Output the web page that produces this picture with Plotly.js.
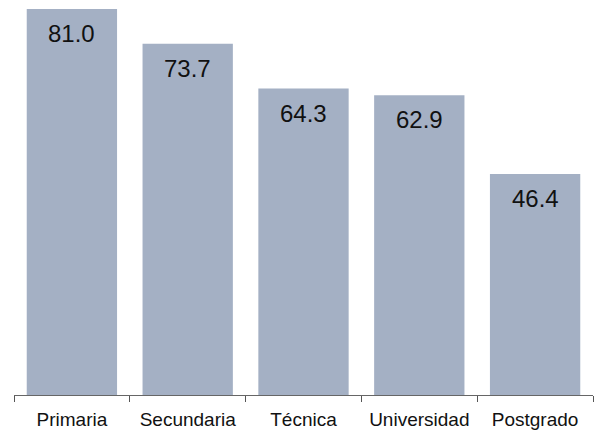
<!DOCTYPE html>
<html>
<head>
<meta charset="utf-8">
<script src="https://cdn.plot.ly/plotly-3.0.1.min.js"></script>
<style>html,body{margin:0;padding:0;background:#fff;}#chart{width:595px;height:442px;}</style>
</head>
<body>
<div id="chart"></div>
<script>
const categories = ["Primaria", "Secundaria", "Técnica", "Universidad", "Postgrado"];
const values = [81.0, 73.7, 64.3, 62.9, 46.4];
const labels = values.map(v => v.toFixed(1));

const font = "Liberation Sans, Arial, sans-serif";
const annotations = categories.map((c, i) => ({
  x: c, y: values[i], xref: "x", yref: "y",
  text: labels[i], showarrow: false,
  yanchor: "top", yshift: -9,
  font: {family: font, size: 24, color: "#111"}
}));

Plotly.newPlot("chart", [{
  type: "bar",
  x: categories,
  y: values,
  marker: {color: "#A4B0C4", line: {width: 0}},
  hoverinfo: "none"
}], {
  width: 595,
  height: 442,
  margin: {l: 14, r: 2, t: 9, b: 47},
  paper_bgcolor: "#fff",
  plot_bgcolor: "#fff",
  bargap: 0.22,
  showlegend: false,
  annotations: annotations,
  xaxis: {
    showline: true, linecolor: "#666", linewidth: 1,
    ticks: "outside", tickson: "boundaries", ticklen: 6, tickcolor: "#555",
    ticklabelstandoff: 7,
    tickfont: {family: font, size: 19, color: "#111"},
    showgrid: false, zeroline: false
  },
  yaxis: {
    range: [0, 81], visible: false, showgrid: false, zeroline: false
  }
}, {staticPlot: true});
</script>
</body>
</html>
